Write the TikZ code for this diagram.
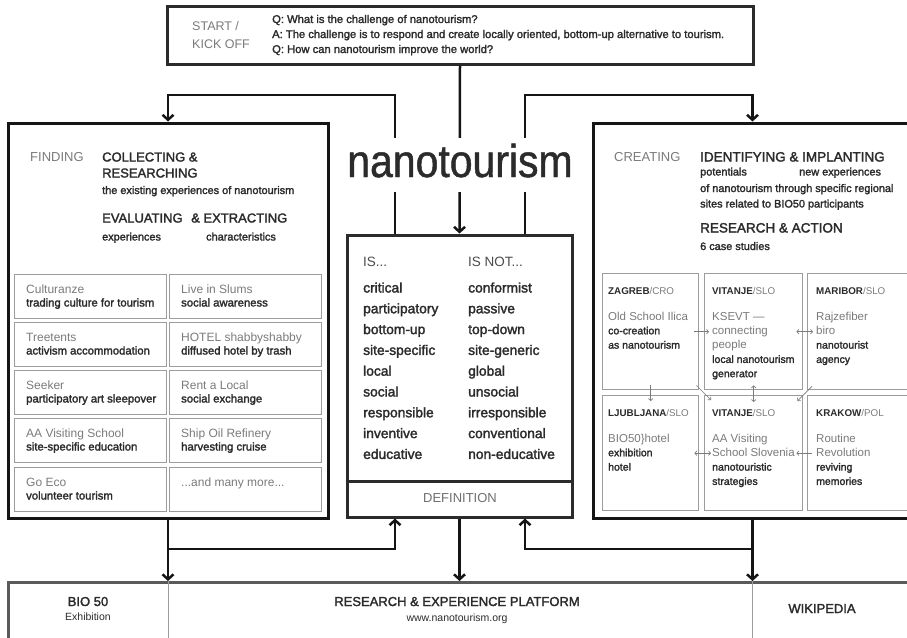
\documentclass[tikz,border=0pt]{standalone}
\usepackage{fontspec}
\setmainfont{Liberation Sans}
\newfontfamily\medf[FakeBold=2]{Liberation Sans}
\newfontfamily\ttlf[FakeStretch=0.89,FakeBold=1]{Liberation Sans}
\usetikzlibrary{arrows.meta}
\definecolor{ink}{HTML}{151515}
\definecolor{txt}{HTML}{2B2B2B}
\definecolor{grey}{HTML}{7B7B7B}
\definecolor{boxg}{HTML}{9C9C9C}
\definecolor{barg}{HTML}{5A5A5A}
\newcommand\mytx[5]{\node[anchor=base west,inner sep=0pt,#4] (#1) at (#2,#3) {#5};}
\newcommand\gbox[5]{%
  \node[smallbox,minimum width=152,minimum height=44,anchor=north west] (#1) at (#2,#3) {};
  \node[gtitle,anchor=base west,inner sep=0pt] (#1t) at ([xshift=12pt,yshift=-19pt]#1.north west) {#4};
  \node[gsub,anchor=base west,inner sep=0pt] (#1s) at ([xshift=12pt,yshift=-32.5pt]#1.north west) {#5};}
\begin{document}
\begin{tikzpicture}[x=1pt,y=-1pt,
  bigbox/.style={draw=ink,line width=3pt,inner sep=0pt},
  topbox/.style={draw=txt,line width=3pt,inner sep=0pt},
  defbox/.style={draw=txt,line width=3pt,inner sep=0pt},
  smallbox/.style={draw=boxg,line width=1.4pt,inner sep=0pt},
  barbox/.style={draw=barg,line width=2.5pt,inner sep=0pt},
  conn/.style={draw=ink,line width=2.5pt},
  arr/.style={conn,-{Straight Barb[length=5pt,width=11pt]}},
  sarr/.style={draw=grey,line width=0.7pt,-{Straight Barb[length=2pt,width=4.5pt]}},
  darr/.style={draw=grey,line width=0.7pt,{Straight Barb[length=2pt,width=4.5pt]}-{Straight Barb[length=2pt,width=4.5pt]}},
  gU/.style={text=grey,font=\fontsize{12.5}{14}\selectfont},
  qa/.style={text=txt,font=\medf\fontsize{11.2}{12}\selectfont},
  hd/.style={text=txt,font=\medf\fontsize{13}{15}\selectfont},
  sm/.style={text=txt,font=\medf\fontsize{10.9}{12}\selectfont},
  gtitle/.style={text=grey,font=\fontsize{12}{14}\selectfont},
  gsub/.style={text=txt,font=\medf\fontsize{11.3}{13}\selectfont},
  dl/.style={text=txt,font=\medf\fontsize{13.8}{16}\selectfont},
  dh/.style={text=txt!85,font=\fontsize{13.5}{16}\selectfont},
  cg/.style={text=grey,font=\fontsize{11.5}{13}\selectfont},
  cd/.style={text=txt,font=\medf\fontsize{10.5}{12}\selectfont},
  ct/.style={text=txt,font=\fontsize{9.8}{11}\selectfont},
  bar/.style={text=txt,font=\medf\fontsize{13}{15}\selectfont,anchor=base,inner sep=0pt},
  bars/.style={text=txt,font=\fontsize{10.5}{12}\selectfont,anchor=base,inner sep=0pt}
]
\useasboundingbox (0,0) rectangle (907,637);
\clip (0,0) rectangle (907,637);
\fill[white] (0,0) rectangle (907,637);

% main boxes
\node[topbox,minimum width=586,minimum height=58] (T) at (460,35) {};
\node[bigbox,minimum width=320,minimum height=395] (L) at (168,320.5) {};
\node[bigbox,minimum width=319,minimum height=395] (R) at (752.5,320.5) {};
\node[defbox,minimum width=225,minimum height=282] (D) at (459.5,376) {};
\node[barbox,minimum width=912,minimum height=70,anchor=north west] (B) at (7,581) {};

% connectors top
\coordinate (tl) at (395,95);
\coordinate (tr) at (525,95);
\draw[arr] (T.south) -- (D.north);
\draw[arr] (tl |- D.north) -- (tl) -| (L.north);
\draw[arr] (tr |- D.north) -- (tr) -| (R.north);
% connectors bottom
\coordinate (bl) at (395,549);
\coordinate (br) at (525,549);
\draw[arr] (L.south) -- (L.south |- B.north);
\draw[arr] (L.south |- bl) -- (bl) -- (bl |- D.south);
\draw[arr] (D.south) -- (D.south |- B.north);
\draw[arr] (R.south) -- (R.south |- B.north);
\draw[arr] (R.south |- br) -- (br) -- (br |- D.south);

% title
\node[anchor=base,fill=white,inner xsep=3pt,inner ysep=0pt,text height=39pt,text depth=15pt,
  text=txt,font=\ttlf\fontsize{46}{50}\selectfont] (N) at (460,177) {nanotourism};

% top box text
\mytx{st1}{192}{30.5}{gU}{START /}
\mytx{st2}{192}{48.5}{gU}{KICK OFF}
\mytx{q1}{272}{23}{qa}{Q: What is the challenge of nanotourism?}
\mytx{q2}{272}{38}{qa}{A: The challenge is to respond and create locally oriented, bottom-up alternative to tourism.}
\mytx{q3}{272}{53}{qa}{Q: How can nanotourism improve the world?}

% left box text
\mytx{lf}{30}{161.5}{gU,font=\fontsize{13}{15}\selectfont}{FINDING}
\mytx{lh1}{102}{161.5}{hd}{COLLECTING \&}
\mytx{lh2}{102}{177.5}{hd}{RESEARCHING}
\mytx{ls1}{102}{194}{sm}{the existing experiences of nanotourism}
\mytx{lh3}{102}{222.5}{hd}{EVALUATING\hspace{5pt} \& EXTRACTING}
\mytx{ls2}{102}{240.5}{sm}{experiences}
\mytx{ls3}{206}{240.5}{sm}{characteristics}

% left grid
\gbox{g11}{14}{274}{Culturanze}{trading culture for tourism}
\gbox{g12}{169}{274}{Live in Slums}{social awareness}
\gbox{g21}{14}{322}{Treetents}{activism accommodation}
\gbox{g22}{169}{322}{HOTEL shabbyshabby}{diffused hotel by trash}
\gbox{g31}{14}{370}{Seeker}{participatory art sleepover}
\gbox{g32}{169}{370}{Rent a Local}{social exchange}
\gbox{g41}{14}{418}{AA Visiting School}{site-specific education}
\gbox{g42}{169}{418}{Ship Oil Refinery}{harvesting cruise}
\gbox{g51}{14}{467}{Go Eco}{volunteer tourism}
\node[smallbox,minimum width=152,minimum height=44,anchor=north west] (g52) at (169,467) {};
\node[gtitle,anchor=base west,inner sep=0pt] (g52t) at ([xshift=12pt,yshift=-19pt]g52.north west) {...and many more...};

% definition box
\coordinate (dv) at (0,481);
\draw[defbox] (D.west |- dv) -- (D.east |- dv);
\mytx{is}{363}{266.5}{dh}{IS...}
\mytx{isn}{468}{266.5}{dh}{IS NOT...}
\mytx{d1}{363}{292.5}{dl}{critical}
\mytx{d2}{363}{313.3}{dl}{participatory}
\mytx{d3}{363}{334.1}{dl}{bottom-up}
\mytx{d4}{363}{354.9}{dl}{site-specific}
\mytx{d5}{363}{375.7}{dl}{local}
\mytx{d6}{363}{396.5}{dl}{social}
\mytx{d7}{363}{417.3}{dl}{responsible}
\mytx{d8}{363}{438.1}{dl}{inventive}
\mytx{d9}{363}{458.9}{dl}{educative}
\mytx{n1}{468}{292.5}{dl}{conformist}
\mytx{n2}{468}{313.3}{dl}{passive}
\mytx{n3}{468}{334.1}{dl}{top-down}
\mytx{n4}{468}{354.9}{dl}{site-generic}
\mytx{n5}{468}{375.7}{dl}{global}
\mytx{n6}{468}{396.5}{dl}{unsocial}
\mytx{n7}{468}{417.3}{dl}{irresponsible}
\mytx{n8}{468}{438.1}{dl}{conventional}
\mytx{n9}{468}{458.9}{dl}{non-educative}
\node[anchor=base,inner sep=0pt,text=grey!90!black,font=\fontsize{13}{15}\selectfont] (df) at (460,502.5) {DEFINITION};

% right box text
\mytx{rc}{614}{161.5}{gU,font=\fontsize{13}{15}\selectfont}{CREATING}
\mytx{rh1}{700}{161.5}{hd,font=\medf\fontsize{13.5}{15}\selectfont}{IDENTIFYING \& IMPLANTING}
\mytx{rs1}{700}{175.5}{sm}{potentials}
\mytx{rs2}{799}{175.5}{sm}{new experiences}
\mytx{rs3}{700}{192}{sm}{of nanotourism through specific regional}
\mytx{rs4}{700}{207.5}{sm}{sites related to BIO50 participants}
\mytx{rh2}{700}{232.5}{hd,font=\medf\fontsize{13.5}{15}\selectfont}{RESEARCH \& ACTION}
\mytx{rs5}{700}{250}{sm}{6 case studies}

% case boxes
\node[smallbox,minimum width=96,minimum height=116,anchor=north west] (Z) at (602,273) {};
\node[smallbox,minimum width=98,minimum height=116,anchor=north west] (V1) at (704,273) {};
\node[smallbox,minimum width=106,minimum height=116,anchor=north west] (M) at (807,273) {};
\node[smallbox,minimum width=96,minimum height=115,anchor=north west] (LJ) at (602,395) {};
\node[smallbox,minimum width=98,minimum height=115,anchor=north west] (V2) at (704,395) {};
\node[smallbox,minimum width=106,minimum height=115,anchor=north west] (K) at (807,395) {};

\mytx{zt}{608}{294}{ct}{\textbf{ZAGREB}\textcolor{grey}{/CRO}}
\mytx{z1}{608}{320}{cg}{Old School Ilica}
\mytx{z2}{608}{334.3}{cd}{co-creation}
\mytx{z3}{608}{348.6}{cd}{as nanotourism}
\mytx{vt}{712}{294}{ct}{\textbf{VITANJE}\textcolor{grey}{/SLO}}
\mytx{v1}{712}{320}{cg}{KSEVT —}
\mytx{v2}{712}{334.3}{cg}{connecting}
\mytx{v3}{712}{348.6}{cg}{people}
\mytx{v4}{712}{362.9}{cd}{local nanotourism}
\mytx{v5}{712}{377.2}{cd}{generator}
\mytx{mt}{816}{294}{ct}{\textbf{MARIBOR}\textcolor{grey}{/SLO}}
\mytx{m1}{816}{320}{cg}{Rajzefiber}
\mytx{m2}{816}{334.3}{cg}{biro}
\mytx{m3}{816}{348.6}{cd}{nanotourist}
\mytx{m4}{816}{362.9}{cd}{agency}
\mytx{ljt}{608}{416}{ct}{\textbf{LJUBLJANA}\textcolor{grey}{/SLO}}
\mytx{lj1}{608}{442}{cg}{BIO50\}hotel}
\mytx{lj2}{608}{456.3}{cd}{exhibition}
\mytx{lj3}{608}{470.6}{cd}{hotel}
\mytx{wt}{712}{416}{ct}{\textbf{VITANJE}\textcolor{grey}{/SLO}}
\mytx{w1}{712}{442}{cg}{AA Visiting}
\mytx{w2}{712}{456.3}{cg}{School Slovenia}
\mytx{w3}{712}{470.6}{cd}{nanotouristic}
\mytx{w4}{712}{484.9}{cd}{strategies}
\mytx{kt}{816}{416}{ct}{\textbf{KRAKOW}\textcolor{grey}{/POL}}
\mytx{k1}{816}{442}{cg}{Routine}
\mytx{k2}{816}{456.3}{cg}{Revolution}
\mytx{k3}{816}{470.6}{cd}{reviving}
\mytx{k4}{816}{484.9}{cd}{memories}

% small arrows
\draw[sarr] ([xshift=-5pt]Z.east) -- ([xshift=5pt]V1.west);
\draw[darr] ([xshift=-7pt]V1.east) -- ([xshift=6pt]M.west);
\draw[sarr] ([yshift=5pt]Z.south) -- ([yshift=-6pt]LJ.north);
\draw[sarr] ([xshift=-3pt,yshift=5pt]Z.south east) -- ([xshift=7pt,yshift=-5pt]V2.north west);
\draw[darr] ([yshift=5pt]V1.south) -- ([yshift=-7pt]V2.north);
\draw[sarr] ([xshift=5pt,yshift=4pt]M.south west) -- ([xshift=-6pt,yshift=-6pt]V2.north east);
\draw[darr] ([xshift=-5pt]LJ.east) -- ([xshift=7pt]V2.west);
\draw[sarr] ([xshift=5pt]K.west) -- ([xshift=-7pt]V2.east);

% bottom bar
\draw[draw=boxg,line width=1pt] (L.south |- B.north) -- (L.south |- B.south);
\draw[draw=boxg,line width=1pt] (R.south |- B.north) -- (R.south |- B.south);
\node[bar] (b1) at (88,606) {BIO 50};
\node[bars] (b2) at (88,620) {Exhibition};
\node[bar] (b3) at (457,606) {RESEARCH \& EXPERIENCE PLATFORM};
\node[bars] (b4) at (457,621) {www.nanotourism.org};
\node[bar] (b5) at (822,613) {WIKIPEDIA};
\end{tikzpicture}
\end{document}
